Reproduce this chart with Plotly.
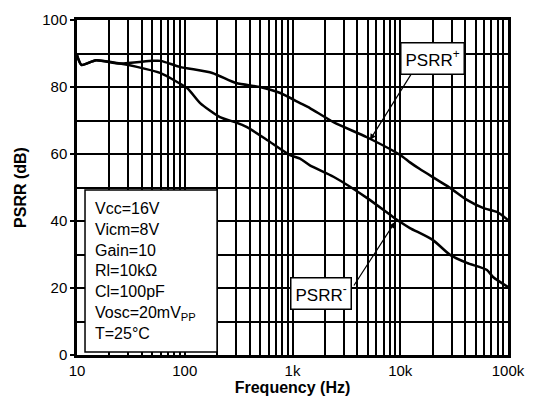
import plotly.graph_objects as go

# PSRR+ (upper curve)
freq_pos = [10, 11, 15, 25, 50, 60, 90, 180, 300, 500, 770, 1175, 1450, 2400, 4900,
            10000, 12300, 15200, 29000, 41600, 58600, 79000, 100000]
psrr_pos = [89.5, 86.6, 88.0, 87.0, 87.8, 87.8, 86.0, 84.2, 81.2, 80.0, 78.2, 75.2, 73.7,
            69.5, 65.0, 59.7, 57.5, 55.5, 49.9, 46.3, 43.9, 42.7, 40.3]

# PSRR- (lower curve)
freq_neg = [10, 11, 15, 25, 36, 59, 85, 107, 139, 212, 293, 378, 580, 948, 1175, 1450,
            2400, 4900, 8570, 10000, 12300, 20140, 28960, 41600, 63800, 72600, 100000]
psrr_neg = [89.5, 86.6, 88.0, 87.0, 86.0, 84.2, 81.5, 79.5, 75.2, 71.0, 69.5, 68.0, 64.2,
            59.7, 58.6, 56.6, 53.2, 46.9, 41.2, 39.7, 37.9, 34.3, 29.9, 27.5, 25.4, 23.3, 20.3]

x_major = [10, 100, 1000, 10000, 100000]
x_labels = ["10", "100", "1k", "10k", "100k"]
x_minor = [m * d for d in [10, 100, 1000, 10000] for m in range(2, 10)]

conditions = ["Vcc=16V", "Vicm=8V", "Gain=10", "Rl=10kΩ", "Cl=100pF",
              "Vosc=20mV<sub>PP</sub>", "T=25°C"]

FONT = "Liberation Sans, Arial, Helvetica, sans-serif"

fig = go.Figure()
fig.add_trace(go.Scatter(x=freq_pos, y=psrr_pos, mode="lines",
                         line=dict(color="black", width=2.5, shape="spline", smoothing=0.6),
                         showlegend=False))
fig.add_trace(go.Scatter(x=freq_neg, y=psrr_neg, mode="lines",
                         line=dict(color="black", width=2.5, shape="spline", smoothing=0.6),
                         showlegend=False))

# conditions box
fig.add_shape(type="rect", xref="paper", yref="paper", x0=0.0186, x1=0.325, y0=0.009, y1=0.4925,
              fillcolor="white", line=dict(color="black", width=1.5), layer="above")
fig.add_annotation(x=0.036, y=0.25, xref="paper", yref="paper", xanchor="left", yanchor="middle",
                   text="<br>".join(conditions), align="left", showarrow=False,
                   font=dict(family=FONT, size=16, color="black"))

# labels with arrows
fig.add_annotation(x=4.295, y=88.4, xref="x", yref="y", text="PSRR<sup>+</sup>",
                   showarrow=False, bgcolor="white", bordercolor="black", borderwidth=1.5,
                   borderpad=4, font=dict(family=FONT, size=17, color="black"))
fig.add_annotation(x=3.719, y=64.2, ax=4.109, ay=84.2, xref="x", yref="y",
                   axref="x", ayref="y", text="", showarrow=True, arrowhead=2,
                   arrowsize=1, arrowwidth=1.2, arrowcolor="black")
fig.add_annotation(x=3.269, y=18.5, xref="x", yref="y", text="PSRR<sup>-</sup>",
                   showarrow=False, bgcolor="white", bordercolor="black", borderwidth=1.5,
                   borderpad=4, font=dict(family=FONT, size=17, color="black"))
fig.add_annotation(x=3.951, y=39.7, ax=3.561, ay=20.3, xref="x", yref="y",
                   axref="x", ayref="y", text="", showarrow=True, arrowhead=2,
                   arrowsize=1, arrowwidth=1.2, arrowcolor="black")

fig.update_xaxes(type="log", range=[1, 5], tickmode="array", tickvals=x_major,
                 ticktext=x_labels, showgrid=True, gridcolor="black", gridwidth=1.8,
                 showline=True, linecolor="black", linewidth=2.5, mirror=True,
                 ticks="", tickfont=dict(family=FONT, size=15, color="black"),
                 minor=dict(tickmode="array", tickvals=x_minor, showgrid=True,
                            gridcolor="black", gridwidth=1.8),
                 title=dict(text="<b>Frequency (Hz)</b>", standoff=0,
                            font=dict(family=FONT, size=16, color="black")),
                 zeroline=False, automargin=False)
fig.update_yaxes(range=[0, 100], dtick=20, tick0=0, showgrid=True, gridcolor="black",
                 gridwidth=1.8, showline=True, linecolor="black", linewidth=2.5,
                 mirror=True, ticks="outside", ticklen=4, tickwidth=1.5, tickcolor="black",
                 tickfont=dict(family=FONT, size=15, color="black"),
                 minor=dict(dtick=10, showgrid=True, gridcolor="black", gridwidth=1.8),
                 title=dict(text="<b>PSRR (dB)</b>", standoff=12,
                            font=dict(family=FONT, size=16, color="black")),
                 zeroline=False, automargin=False)

fig.update_layout(width=534, height=403, margin=dict(l=69, r=34, t=12, b=56),
                  plot_bgcolor="white", paper_bgcolor="white",
                  font=dict(family=FONT, color="black"))

fig.write_html("out.html")
